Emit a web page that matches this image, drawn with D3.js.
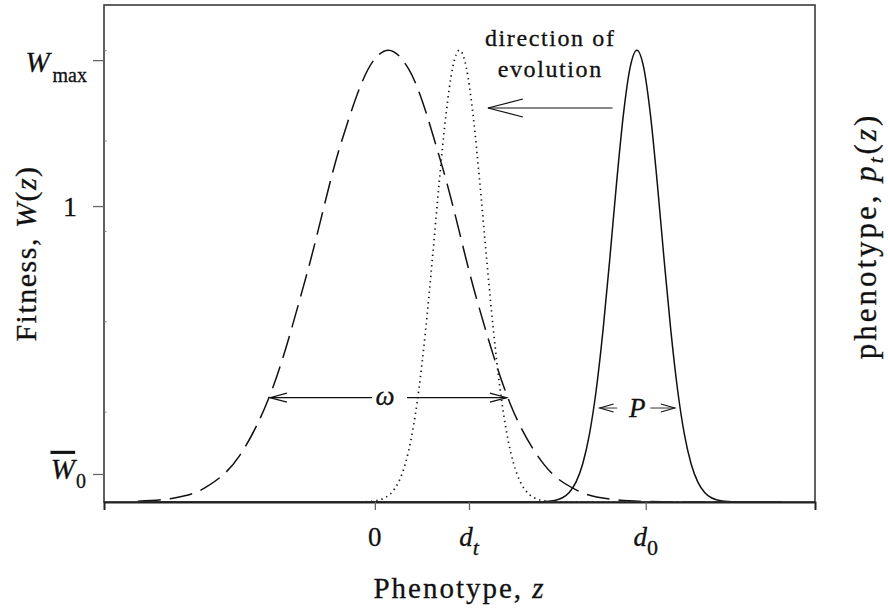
<!DOCTYPE html>
<html>
<head>
<meta charset="utf-8">
<script src="https://cdn.jsdelivr.net/npm/d3@7"></script>
<style>
  html, body { margin: 0; padding: 0; background: #fff; }
  svg { display: block; }
  text { font-family: "Liberation Serif", "Times New Roman", serif; fill: #111; stroke: #111; stroke-width: 0.3px; }
</style>
</head>
<body>
<svg id="chart" width="888" height="609"></svg>
<script>
// Phenotype axis ticks and their labels (main symbol + subscript)
const xTickValues = [0, 1.39, 4.0];
const xTickMain = ["0", "d", "d"];
const xTickSub = ["", "t", "0"];

// Fitness axis ticks: W_max, 1, mean fitness W̄_0
const yTickValues = [0.978, 0.655, 0.062];
const yMinorTicks = [0.2, 0.4, 0.6, 0.8, 1.0];

// Fitness function W(z) (dashed)
const fitnessZ = [-3.5, -3.0, -2.5, -2.0, -1.5, -1.0, -0.5, 0.0, 0.2, 0.5, 1.0, 1.5, 2.0, 2.5, 3.0, 3.5, 4.0, 4.5, 5.0, 5.5, 6.0];
const fitnessW = [0.0016, 0.008, 0.0322, 0.102, 0.256, 0.507, 0.794, 0.981, 1.0, 0.958, 0.740, 0.451, 0.217, 0.0827, 0.0248, 0.0059, 0.0011, 0.0001, 0, 0, 0];

// Phenotype distribution at time t (dotted)
const laterZ = [-3.5, -0.15, -0.05, 0.05, 0.15, 0.25, 0.35, 0.45, 0.55, 0.65, 0.75, 0.85, 0.95, 1.05, 1.15, 1.25, 1.35, 1.45, 1.55, 1.65, 1.75, 1.85, 1.95, 2.05, 2.15, 2.25, 2.35, 2.45, 2.55, 2.65, 6.0];
const laterP = [0, 0.0005, 0.0015, 0.0039, 0.0094, 0.0211, 0.0439, 0.0847, 0.151, 0.249, 0.381, 0.539, 0.707, 0.857, 0.962, 1.0, 0.962, 0.857, 0.707, 0.539, 0.381, 0.249, 0.151, 0.0847, 0.0439, 0.0211, 0.0094, 0.0039, 0.0015, 0.0005, 0];

// Initial phenotype distribution (solid)
const initialZ = [-3.5, 2.47, 2.57, 2.67, 2.77, 2.87, 2.97, 3.07, 3.17, 3.27, 3.37, 3.47, 3.57, 3.67, 3.77, 3.87, 3.97, 4.07, 4.17, 4.27, 4.37, 4.47, 4.57, 4.67, 4.77, 4.87, 4.97, 5.07, 5.17, 5.27, 6.0];
const initialP = [0, 0.0005, 0.0015, 0.0039, 0.0094, 0.0211, 0.0439, 0.0847, 0.151, 0.249, 0.381, 0.539, 0.707, 0.857, 0.962, 1.0, 0.962, 0.857, 0.707, 0.539, 0.381, 0.249, 0.151, 0.0847, 0.0439, 0.0211, 0.0094, 0.0039, 0.0015, 0.0005, 0];

// Annotation arrows in data units: [zStart, zEnd, level]
const omegaArrow = [-1.55, 1.95, 0.231];
const pArrow = [3.32, 4.43, 0.208];
const evolutionArrow = [3.51, 1.67, 0.872];

const svg = d3.select("#chart");
const margin = { left: 104, top: 5, right: 73, bottom: 107 };
const W = 888, H = 609;
const innerW = W - margin.left - margin.right;
const innerH = H - margin.top - margin.bottom;

const x = d3.scaleLinear().domain([-4, 6.5]).range([margin.left, margin.left + innerW]);
const y = d3.scaleLinear().domain([0, 1.1]).range([margin.top + innerH, margin.top]);

const ink = "#111";

// Curves
const line = d3.line().x(d => x(d[0])).y(d => y(d[1])).curve(d3.curveMonotoneX);

svg.append("path")
  .datum(d3.zip(fitnessZ, fitnessW))
  .attr("d", line)
  .attr("fill", "none").attr("stroke", ink).attr("stroke-width", 1.5)
  .attr("stroke-dasharray", "23,9");

svg.append("path")
  .datum(d3.zip(laterZ, laterP))
  .attr("d", line)
  .attr("fill", "none").attr("stroke", ink).attr("stroke-width", 1.7)
  .attr("stroke-dasharray", "1.3,4");

svg.append("path")
  .datum(d3.zip(initialZ, initialP))
  .attr("d", line)
  .attr("fill", "none").attr("stroke", ink).attr("stroke-width", 1.5);

// Frame
svg.append("rect")
  .attr("x", margin.left).attr("y", margin.top)
  .attr("width", innerW).attr("height", innerH)
  .attr("fill", "none").attr("stroke", "#3a3a3a").attr("stroke-width", 1.6);

// Bottom axis
const xAxis = svg.append("g")
  .attr("transform", `translate(0,${margin.top + innerH})`)
  .call(d3.axisBottom(x).tickValues(xTickValues).tickSize(8).tickFormat(""));
xAxis.select(".domain").attr("stroke", "#222").attr("stroke-width", 2);
xAxis.selectAll(".tick line").attr("stroke", "#666").attr("stroke-width", 1.3);

const xLab = svg.append("g");
xTickValues.forEach((v, i) => {
  const t = xLab.append("text")
    .attr("x", x(v)).attr("y", 546)
    .attr("text-anchor", "middle")
    .style("font-size", "27px");
  t.append("tspan").text(xTickMain[i])
    .style("font-style", xTickMain[i] === "d" ? "italic" : "normal");
  if (xTickSub[i]) {
    t.append("tspan").text(xTickSub[i])
      .attr("dy", 9)
      .style("font-size", "22px")
      .style("font-style", xTickSub[i] === "t" ? "italic" : "normal");
  }
});

// Left axis: labelled ticks outward, minor ticks inward
const yAxis = svg.append("g")
  .attr("transform", `translate(${margin.left},0)`)
  .call(d3.axisLeft(y).tickValues(yTickValues).tickSize(11).tickFormat(""));
yAxis.select(".domain").remove();
yAxis.selectAll(".tick line").attr("stroke", "#666").attr("stroke-width", 1.3);

svg.append("g")
  .attr("transform", `translate(${margin.left},0)`)
  .call(d3.axisRight(y).tickValues(yMinorTicks).tickSize(2.5).tickFormat(""))
  .call(g => g.select(".domain").remove())
  .call(g => g.selectAll(".tick line").attr("stroke", "#777").attr("stroke-width", 1));

// W_max
const wmax = svg.append("text")
  .attr("x", 87).attr("y", y(yTickValues[0]) + 12)
  .attr("text-anchor", "end").style("font-size", "29px");
wmax.append("tspan").text("W").style("font-style", "italic");
wmax.append("tspan").text("max").attr("dx", 3).attr("dy", 10).style("font-size", "20px");

// 1
svg.append("text")
  .attr("x", 77).attr("y", y(yTickValues[1]) + 10)
  .attr("text-anchor", "end").style("font-size", "28px")
  .text("1");

// W̄_0
const w0 = svg.append("text")
  .attr("x", 86).attr("y", y(yTickValues[2]) + 5)
  .attr("text-anchor", "end").style("font-size", "29px");
w0.append("tspan").text("W").style("font-style", "italic")
  .style("text-decoration", "overline");
w0.append("tspan").text("0").attr("dx", 1).attr("dy", 9).style("font-size", "20px");

// Axis titles
svg.append("text")
  .attr("x", (margin.left + margin.left + innerW) / 2).attr("y", 598)
  .attr("text-anchor", "middle")
  .style("font-size", "29px").style("letter-spacing", "2px")
  .html('Phenotype, <tspan font-style="italic">z</tspan>');

svg.append("text")
  .attr("transform", `translate(36,${margin.top + innerH / 2}) rotate(-90)`)
  .attr("text-anchor", "middle")
  .style("font-size", "30px").style("letter-spacing", "1.5px")
  .html('Fitness, <tspan font-style="italic">W</tspan>(<tspan font-style="italic">z</tspan>)');

svg.append("text")
  .attr("transform", `translate(876,236) rotate(-90)`)
  .attr("text-anchor", "middle")
  .style("font-size", "31px").style("letter-spacing", "3px")
  .html('phenotype, <tspan font-style="italic">p</tspan><tspan font-style="italic" font-size="21px" dy="7">t</tspan><tspan dy="-7">(</tspan><tspan font-style="italic">z</tspan>)');

// Arrow helpers: open chevron heads
function chevron(g, tipX, tipY, dir, len, spread) {
  g.append("path")
    .attr("d", `M${tipX + dir * len},${tipY - spread} L${tipX},${tipY} L${tipX + dir * len},${tipY + spread}`)
    .attr("fill", "none").attr("stroke", ink).attr("stroke-width", 1.1);
}
const arrows = svg.append("g");

// Direction of evolution
{
  const [z0, z1, lv] = evolutionArrow;
  const yy = y(lv);
  arrows.append("line").attr("x1", x(z0)).attr("x2", x(z1)).attr("y1", yy).attr("y2", yy)
    .attr("stroke", ink).attr("stroke-width", 1.1);
  chevron(arrows, x(z1), yy, 1, 35, 9);
  const tx = (x(z0) + x(z1)) / 2;
  svg.append("text").attr("x", tx).attr("y", 46).attr("text-anchor", "middle")
    .style("font-size", "24px").style("letter-spacing", "1.6px").text("direction of");
  svg.append("text").attr("x", tx).attr("y", 77).attr("text-anchor", "middle")
    .style("font-size", "24px").style("letter-spacing", "1.6px").text("evolution");
}

// Width of fitness function, ω
{
  const [z0, z1, lv] = omegaArrow;
  const yy = y(lv);
  const xm = x(0.15);
  arrows.append("line").attr("x1", x(z0)).attr("x2", xm - 13).attr("y1", yy).attr("y2", yy)
    .attr("stroke", ink).attr("stroke-width", 1.1);
  arrows.append("line").attr("x1", xm + 22).attr("x2", x(z1)).attr("y1", yy).attr("y2", yy)
    .attr("stroke", ink).attr("stroke-width", 1.1);
  chevron(arrows, x(z0), yy, 1, 17, 4.5);
  chevron(arrows, x(z1), yy, -1, 17, 4.5);
  svg.append("text").attr("x", xm).attr("y", yy + 7).attr("text-anchor", "middle")
    .style("font-size", "27px").style("font-style", "italic").text("ω");
}

// Width of phenotype distribution, P
{
  const [z0, z1, lv] = pArrow;
  const yy = y(lv);
  const xm = (x(z0) + x(z1)) / 2;
  arrows.append("line").attr("x1", x(z0)).attr("x2", xm - 20).attr("y1", yy).attr("y2", yy)
    .attr("stroke", "#444").attr("stroke-width", 1.1);
  arrows.append("line").attr("x1", xm + 13).attr("x2", x(z1)).attr("y1", yy).attr("y2", yy)
    .attr("stroke", "#444").attr("stroke-width", 1.1);
  chevron(arrows, x(z0), yy, 1, 14, 4);
  chevron(arrows, x(z1), yy, -1, 14, 4);
  svg.append("text").attr("x", xm).attr("y", yy + 9).attr("text-anchor", "middle")
    .style("font-size", "27px").style("font-style", "italic").text("P");
}
</script>
</body>
</html>
